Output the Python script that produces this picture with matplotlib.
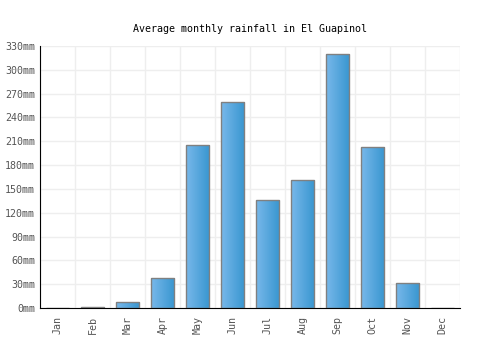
import numpy as np
import matplotlib
matplotlib.use("Agg")
import matplotlib.pyplot as plt
from matplotlib.colors import LinearSegmentedColormap

months = ["Jan", "Feb", "Mar", "Apr", "May", "Jun", "Jul", "Aug", "Sep", "Oct", "Nov", "Dec"]
rainfall = [0, 1, 7, 38, 205, 260, 136, 161, 320, 203, 32, 0]
yticks = list(range(0, 331, 30))

plt.rcParams['font.family'] = ['DejaVu Sans Mono']

fig = plt.figure(figsize=(5, 3.5), dpi=100)
ax = fig.add_axes([40 / 500, 1 - 308 / 350, 420 / 500, 262 / 350])

x = np.arange(len(months))
bars = ax.bar(x, rainfall, width=0.66, color="none", edgecolor="#808080", linewidth=1, zorder=3)

# horizontal gradient inside each bar
cmap = LinearSegmentedColormap.from_list("blu", ["#78b8ea", "#3896d0"])
grad = np.linspace(0, 1, 64).reshape(1, -1)
for b in bars:
    if b.get_height() <= 0:
        continue
    im = ax.imshow(grad, cmap=cmap, aspect="auto", zorder=2,
                   extent=[b.get_x(), b.get_x() + b.get_width(), 0, b.get_height()])
    im.set_clip_path(b)

ax.set_xlim(-0.5, len(months) - 0.5)
ax.set_ylim(0, 330)
ax.set_yticks(yticks)
ax.set_yticklabels([f"{v}mm" for v in yticks])
ax.set_xticks(np.arange(-0.5, len(months)), minor=True)
ax.set_xticks(x)
ax.set_xticklabels(months, rotation=90)
ax.tick_params(axis="both", which="both", length=0, labelsize=7.2, colors="#555555")
ax.tick_params(axis="x", pad=6)
ax.grid(True, which="minor", axis="x", color="#eeeeee", linewidth=1, zorder=0)
ax.grid(True, which="major", axis="y", color="#eeeeee", linewidth=1, zorder=0)

for s in ["top", "right"]:
    ax.spines[s].set_visible(False)
ax.spines["left"].set_color("black")
ax.spines["bottom"].set_color("black")
ax.set_axisbelow(True)

fig.suptitle("Average monthly rainfall in El Guapinol", y=1 - 24 / 350, fontsize=7.2)

fig.savefig("out.png", dpi=100)
